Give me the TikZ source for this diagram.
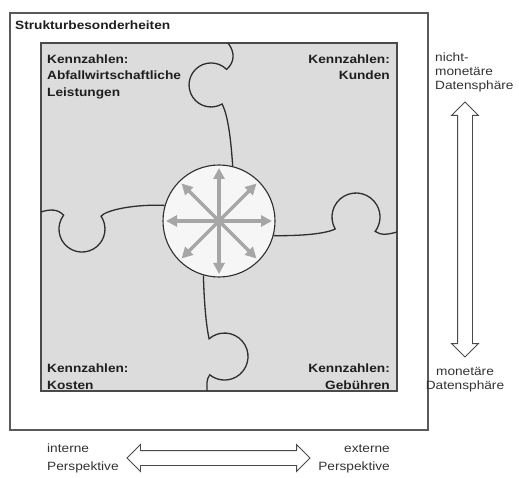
\documentclass[tikz,border=0pt]{standalone}
\usepackage{fontspec}
\setmainfont{Liberation Sans}[FakeStretch=1.14]
\usetikzlibrary{arrows.meta,shapes.arrows}
\definecolor{kzframe}{HTML}{5A5A5A}
\definecolor{kzline}{HTML}{4A4A4A}
\definecolor{kzfield}{HTML}{DCDCDC}
\definecolor{kzseam}{HTML}{2E2E2E}
\definecolor{kzhub}{HTML}{F6F6F6}
\definecolor{kzspoke}{HTML}{A6A6A6}
\definecolor{kztext}{HTML}{333333}
\definecolor{kzbold}{HTML}{1E1E1E}
\newcommand{\kzsize}{\fontsize{12}{16.5}\selectfont}

\begin{document}
\begin{tikzpicture}[
  x=1pt, y=-1pt,
  font=\kzsize,
  frame/.style={draw=kzframe, line width=1.2pt, fill=white},
  field/.style={draw=kzline, fill=kzfield, line width=1.2pt},
  seam/.style={draw=kzseam, line width=1.3pt},
  hub/.style={circle, draw=kzseam, fill=kzhub, line width=1.1pt,
              minimum size=112pt, inner sep=0pt},
  spoke/.style={-{Triangle[length=11pt,width=11pt]}, line width=3.2pt, draw=kzspoke},
  kz/.style={font=\kzsize\bfseries, text=kzbold, inner sep=0pt},
  sphere/.style={font=\fontsize{12}{14}\selectfont, text=kztext, inner sep=0pt},
  dblarrow/.style={double arrow, draw=kzline, fill=white, line width=0.9pt,
                   inner xsep=0pt, inner ysep=7pt, double arrow head extend=6pt}
]
\useasboundingbox (0,0) rectangle (519,478);
\draw[frame] (10,13) rectangle (428,430);
\draw[field] (41,43) rectangle (397,391);
\node[hub] (hub) at (219,221) {};
\draw[seam] (228,43) .. controls (235,52) and (235,62) .. (226.6,69.4)
  arc[start angle=-45, end angle=-300, radius=22]
  .. controls (228,115) and (231,140) .. (hub.76);
\draw[seam] (41,212) .. controls (50,209) and (58,209) .. (63.6,215.2)
  arc[start angle=217, end angle=-34, radius=23]
  .. controls (106,210) and (135,204) .. (hub.164);
\draw[seam] (hub.-15) .. controls (300,236) and (325,234) .. (335.2,229)
  arc[start angle=150, end angle=397, radius=24]
  .. controls (381,236) and (390,234) .. (397,232);
\draw[seam] (hub.254) .. controls (204,300) and (206,325) .. (209.1,338.8)
  arc[start angle=-131, end angle=129, radius=23.5]
  .. controls (206,380) and (207,385) .. (207,391);
\foreach \a in {0,45,...,315}
  \draw[spoke] (hub.center) -- ++(\a:53);
\node[kz, anchor=base west] (title) at (15,30) {Strukturbesonderheiten};
\node[kz, anchor=base west, align=left] (leistung) at (47,96.5)
  {Kennzahlen:\\Abfallwirtschaftliche\\Leistungen};
\node[kz, anchor=base east, align=right] (kunden) at (390,80)
  {Kennzahlen:\\Kunden};
\node[kz, anchor=base west, align=left] (kosten) at (47,389)
  {Kennzahlen:\\Kosten};
\node[kz, anchor=base east, align=right] (gebuehren) at (390,389)
  {Kennzahlen:\\Gebühren};
\node[sphere, anchor=base west, align=left] (nichtmon) at (435,90)
  {nicht-\\monetäre\\Datensphäre};
\node[sphere, anchor=base, align=center] (monetaer) at (465,389)
  {monetäre\\Datensphäre};
\node[sphere, anchor=base west, align=left, font=\fontsize{12}{17.5}\selectfont]
  (intern) at (47,470) {interne\\Perspektive};
\node[sphere, anchor=base east, align=right, font=\fontsize{12}{17.5}\selectfont]
  (extern) at (390,470) {externe\\Perspektive};
\node[dblarrow, rotate=90, minimum height=255pt] (sphaere) at (465,229.5) {};
\node[dblarrow, minimum height=183pt] (perspektive) at (218.5,458) {};
\end{tikzpicture}
\end{document}
